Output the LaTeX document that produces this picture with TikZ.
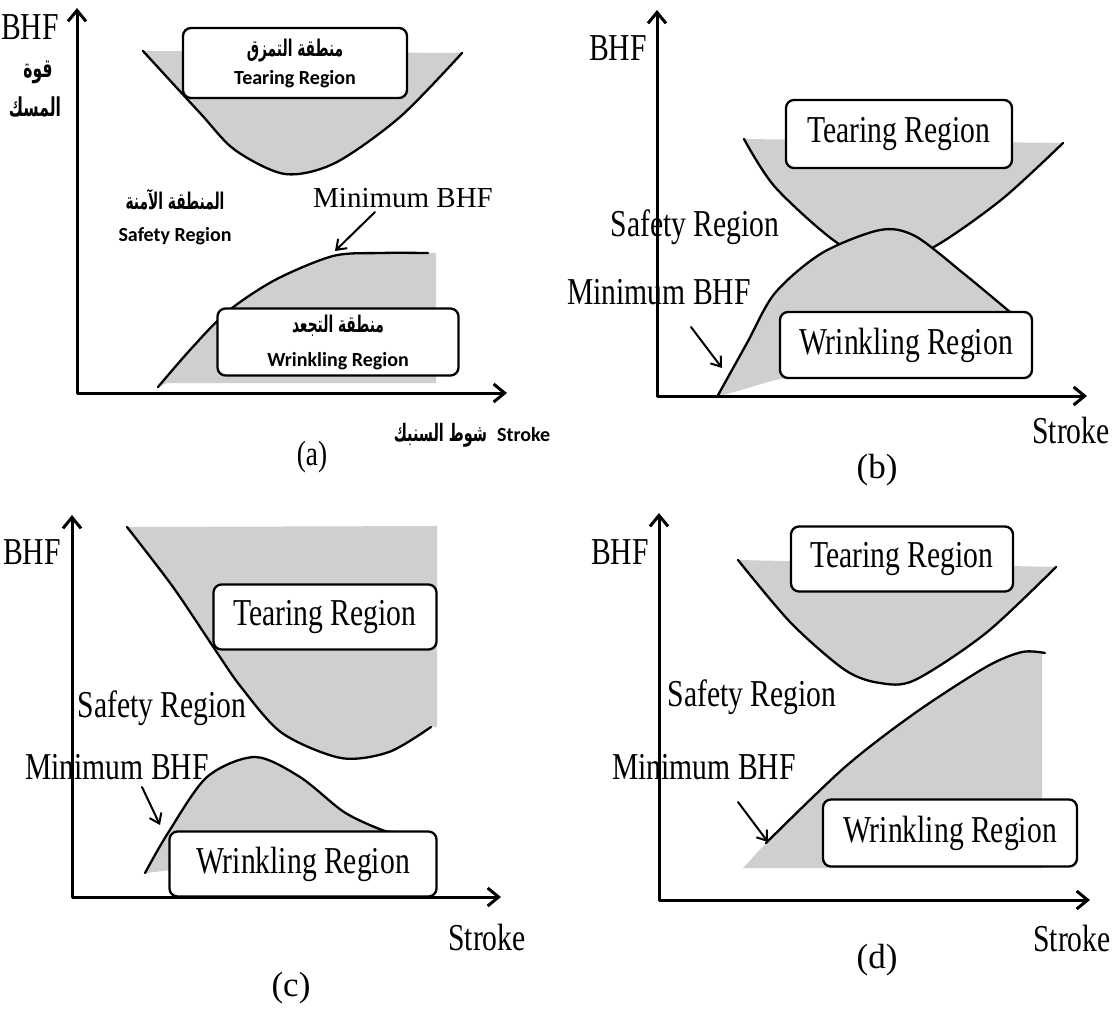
\documentclass[tikz,border=0pt]{standalone}
\usepackage{fontspec}
\setmainfont{Liberation Serif}
\newfontfamily\tnr[FakeStretch=0.78]{Liberation Serif}
\newfontfamily\calfont{Carlito}
\newfontfamily\arabicfont[Script=Arabic,FakeStretch=0.6]{DejaVu Sans}
\TeXXeTstate=1
\usetikzlibrary{arrows.meta}
\tikzset{
  axes/.style={line width=3pt,{Straight Barb[length=11pt,width=18pt,line width=3pt]}-{Straight Barb[length=11pt,width=18pt,line width=3pt]}},
  pointer/.style={line width=2pt,-{Straight Barb[length=9pt,width=13pt,line width=2pt]}},
  curve/.style={line width=2.3pt},
  shade/.style={fill=gray!38},
  regionbox/.style={draw,line width=2.3pt,rounded corners=8pt,fill=white,inner sep=0pt,align=center},
  tnrtext/.style={font=\tnr\fontsize{38}{40}\selectfont,inner sep=0pt},
  caltext/.style={font=\calfont\bfseries\fontsize{20}{28}\selectfont,inner sep=0pt,align=center},
  artext/.style={font=\arabicfont\bfseries\fontsize{26}{28}\selectfont,inner sep=0pt},
  capt/.style={font=\fontsize{35}{38}\selectfont,inner sep=0pt},
}
\newcommand{\ar}[1]{{\arabicfont\bfseries\fontsize{23}{24}\selectfont\beginR #1\endR}}
\begin{document}
\begin{tikzpicture}[x=1pt,y=-1pt,line join=round,line cap=round]
			\useasboundingbox (0,0) rectangle (1117,1013);
			\fill[white] (0,0) rectangle (1117,1013);
			% ---------- (a)
			\fill[shade] plot[smooth] coordinates {(143,51) (200,113) (235,150) (285,174) (335,163) (400,117) (462,53)} -- cycle;
			\draw[curve] plot[smooth] coordinates {(143,51) (200,113) (235,150) (285,174) (335,163) (400,117) (462,53)};
			\fill[shade] plot[smooth] coordinates {(158,387) (190,350) (227,312) (275,280) (333,256) (380,253) (428,253)} -- (436,253) -- (436,383) -- (167,383) -- cycle;
			\draw[curve] plot[smooth] coordinates {(158,387) (190,350) (227,312) (275,280) (333,256) (380,253) (428,253)};
			\node[regionbox,caltext,minimum width=224pt,minimum height=70pt] (tearA) at (295,63)
				{\ar{منطقة التمزق}\\Tearing Region};
			\node[regionbox,caltext,minimum width=241pt,minimum height=67pt] (wrinkA) at (338,342)
				{\ar{منطقة التجعد}\\[6pt]Wrinkling Region};
			\draw[axes] (77,8) -- (77,393) -- (507,393);
			\node[tnrtext] (bhfA) at (30,27) {BHF};
			\node[artext] (quwwa) at (38,72) {\beginR قوة\endR};
			\node[artext] (masik) at (35,107) {\beginR المسك\endR};
			\node[caltext] (safeA) at (175,217) {\ar{المنطقة الآمنة}\\[4pt]Safety Region};
			\node[inner sep=0pt,font=\fontsize{29}{30}\selectfont] (minA) at (403,198) {Minimum BHF};
			\coordinate (minA-s) at (375,212);
			\coordinate (minA-e) at (335,251);
			\draw[pointer] (minA-s) -- (minA-e);
			\node[caltext] (strokeA) at (472,435) {{\arabicfont\bfseries\fontsize{24}{26}\selectfont\beginR شوط السنبك\endR}\hspace{10pt}Stroke};
			\node[tnrtext,font=\tnr\fontsize{35}{38}\selectfont] (capA) at (312,457) {(a)};
			% ---------- (b)
			\fill[shade] plot[smooth] coordinates {(744,139) (775,187) (836,242) (884,262) (932,248) (1001,200) (1063,143)} -- cycle;
			\draw[curve] plot[smooth] coordinates {(744,139) (775,187) (836,242) (884,262) (932,248) (1001,200) (1063,143)};
			\fill[shade] plot[smooth] coordinates {(717,397) (747,343) (775,293) (822,253) (880,230) (915,236) (963,273) (1010,312)} -- (1010,340) -- (775,380) -- cycle;
			\draw[curve] plot[smooth] coordinates {(717,397) (747,343) (775,293) (822,253) (880,230) (915,236) (963,273) (1010,312)};
			\node[regionbox,tnrtext,minimum width=226pt,minimum height=68pt] (tearB) at (899,134) {Tearing Region};
			\node[regionbox,tnrtext,minimum width=252pt,minimum height=66pt] (wrinkB) at (906,345) {Wrinkling Region};
			\draw[axes] (657,10) -- (657,396) -- (1087,396);
			\node[tnrtext] (bhfB) at (618,48) {BHF};
			\node[tnrtext] (safeB) at (695,227) {Safety Region};
			\node[tnrtext] (minB) at (659,292) {Minimum BHF};
			\coordinate (minB-s) at (691,327);
			\coordinate (minB-e) at (722,368);
			\draw[pointer] (minB-s) -- (minB-e);
			\node[tnrtext] (strokeB) at (1071,430) {Stroke};
			\node[capt] (capB) at (877,470) {(b)};
			% ---------- (c)
			\fill[shade] plot[smooth] coordinates {(127,527) (173,587) (214,648) (241,687) (282,733) (341,758) (389,752) (431,727)} -- (437,727) -- (437,526) -- cycle;
			\draw[curve] plot[smooth] coordinates {(127,527) (173,587) (214,648) (241,687) (282,733) (341,758) (389,752) (431,727)};
			\fill[shade] plot[smooth] coordinates {(145,873) (168,833) (207,777) (255,757) (300,777) (344,812) (382,830) (396,832)} -- (170,832) -- (170,870) -- (155,872) -- cycle;
			\draw[curve] plot[smooth] coordinates {(145,873) (168,833) (207,777) (255,757) (300,777) (344,812) (382,830) (396,832)};
			\node[regionbox,tnrtext,minimum width=223pt,minimum height=65pt] (tearC) at (325,617) {Tearing Region};
			\node[regionbox,tnrtext,minimum width=267pt,minimum height=65pt] (wrinkC) at (303,864) {Wrinkling Region};
			\draw[axes] (72,515) -- (72,897) -- (501,897);
			\node[tnrtext] (bhfC) at (32,552) {BHF};
			\node[tnrtext] (safeC) at (162,708) {Safety Region};
			\node[tnrtext] (minC) at (117,767) {Minimum BHF};
			\coordinate (minC-s) at (142,787);
			\coordinate (minC-e) at (160,825);
			\draw[pointer] (minC-s) -- (minC-e);
			\node[tnrtext] (strokeC) at (487,937) {Stroke};
			\node[capt] (capC) at (291,988) {(c)};
			% ---------- (d)
			\fill[shade] plot[smooth] coordinates {(738,560) (791,623) (845,670) (880,683) (915,680) (986,633) (1056,567)} -- cycle;
			\draw[curve] plot[smooth] coordinates {(738,560) (791,623) (845,670) (880,683) (915,680) (986,633) (1056,567)};
			\fill[shade] (743,868) -- plot[smooth] coordinates {(766,843) (845,767) (915,713) (986,667) (1022,652) (1045,653)} -- (1042,653) -- (1042,868) -- cycle;
			\draw[curve] plot[smooth] coordinates {(766,843) (845,767) (915,713) (986,667) (1022,652) (1045,653)};
			\node[regionbox,tnrtext,minimum width=222pt,minimum height=65pt] (tearD) at (902,559) {Tearing Region};
			\node[regionbox,tnrtext,minimum width=254pt,minimum height=67pt] (wrinkD) at (950,833) {Wrinkling Region};
			\draw[axes] (659,513) -- (659,900) -- (1090,900);
			\node[tnrtext] (bhfD) at (620,552) {BHF};
			\node[tnrtext] (safeD) at (752,697) {Safety Region};
			\node[tnrtext] (minD) at (704,767) {Minimum BHF};
			\coordinate (minD-s) at (738,802);
			\coordinate (minD-e) at (768,842);
			\draw[pointer] (minD-s) -- (minD-e);
			\node[tnrtext] (strokeD) at (1072,938) {Stroke};
			\node[capt] (capD) at (877,960) {(d)};
\end{tikzpicture}
\end{document}
